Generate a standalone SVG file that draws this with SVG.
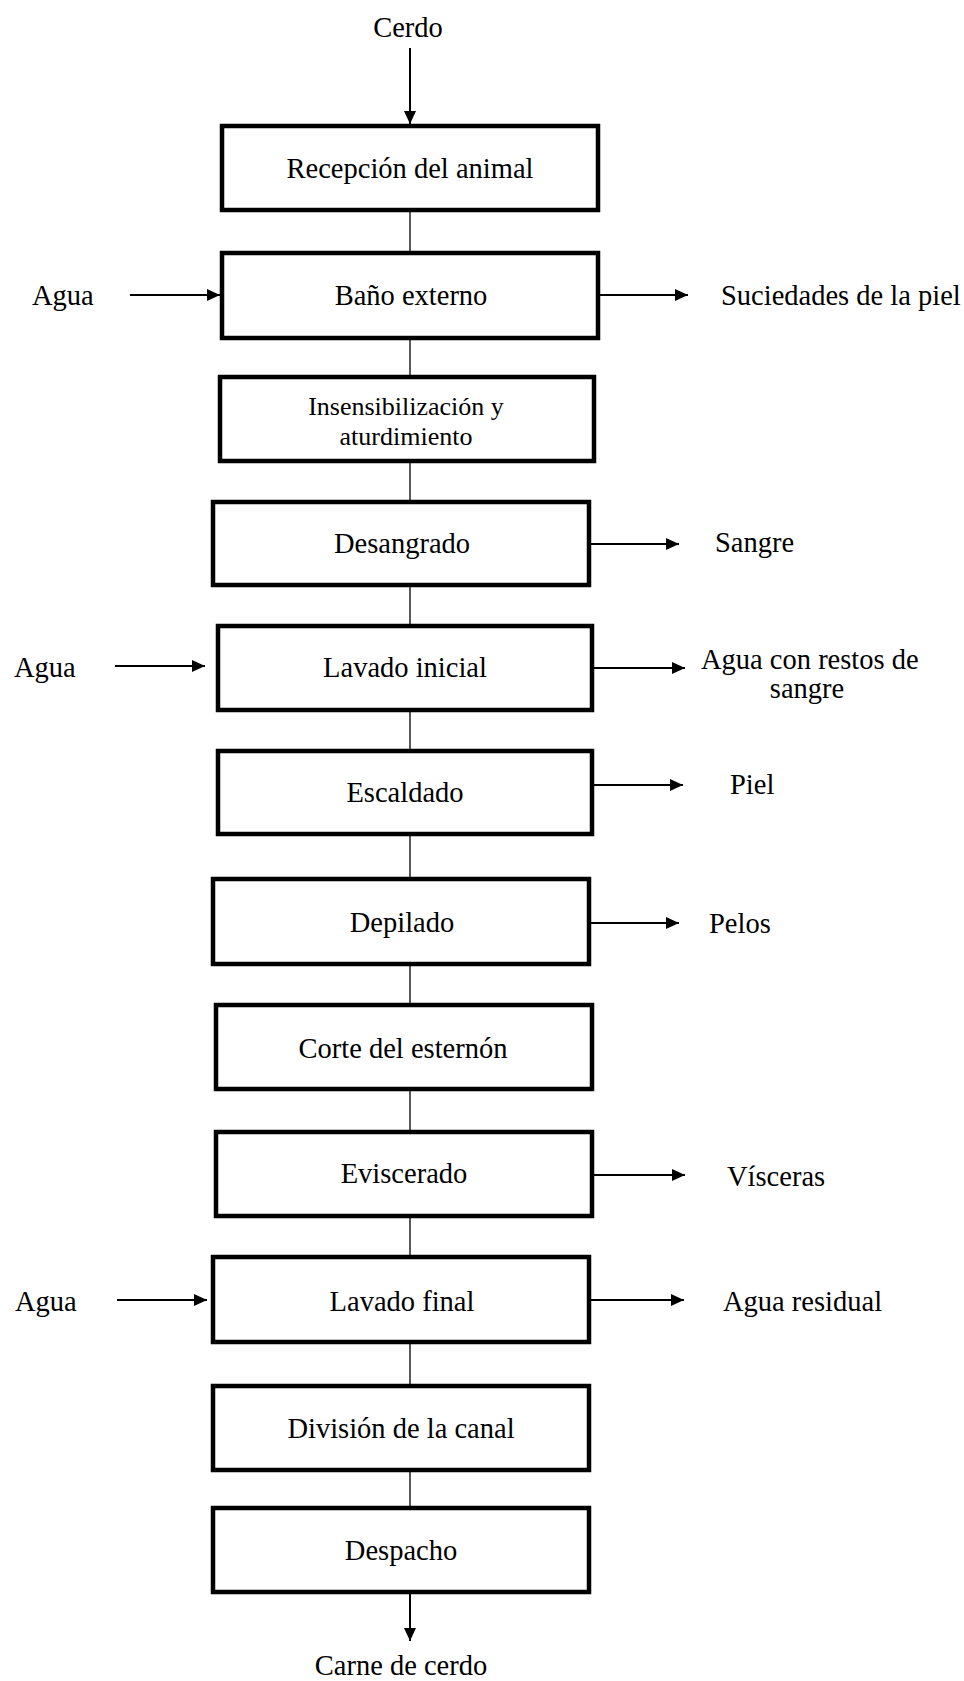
<svg xmlns="http://www.w3.org/2000/svg" width="964" height="1681" viewBox="0 0 964 1681">
<style>
.box{fill:#fff;stroke:#000;stroke-width:4.5}
.t{font-family:"Liberation Serif","Times New Roman",serif;font-size:28.5px;fill:#000}
.m{text-anchor:middle}
.c{stroke:#000;stroke-width:1.3;fill:none}
.a{stroke:#000;stroke-width:2;fill:none;marker-end:url(#ah)}
</style>
<defs>
<marker id="ah" markerUnits="userSpaceOnUse" markerWidth="14" markerHeight="12" refX="13" refY="6" orient="auto">
<path d="M0,0 L13,6 L0,12 Z" fill="#000"/>
</marker>
</defs>
<rect width="964" height="1681" fill="#fff"/>
<g id="connectors">
<line class="a" x1="410" y1="48" x2="410" y2="124"/>
<line class="c" x1="410" y1="210" x2="410" y2="253"/>
<line class="c" x1="410" y1="338" x2="410" y2="377"/>
<line class="c" x1="410" y1="461" x2="410" y2="502"/>
<line class="c" x1="410" y1="585" x2="410" y2="626"/>
<line class="c" x1="410" y1="710" x2="410" y2="751"/>
<line class="c" x1="410" y1="834" x2="410" y2="879"/>
<line class="c" x1="410" y1="964" x2="410" y2="1005"/>
<line class="c" x1="410" y1="1089" x2="410" y2="1132"/>
<line class="c" x1="410" y1="1216" x2="410" y2="1257"/>
<line class="c" x1="410" y1="1342" x2="410" y2="1386"/>
<line class="c" x1="410" y1="1470" x2="410" y2="1508"/>
<line class="a" x1="410" y1="1592" x2="410" y2="1641"/>
<line class="a" x1="130" y1="295" x2="220" y2="295"/>
<line class="a" x1="600" y1="295" x2="688" y2="295"/>
<line class="a" x1="591" y1="544" x2="679" y2="544"/>
<line class="a" x1="115" y1="666" x2="205" y2="666"/>
<line class="a" x1="594" y1="668" x2="685" y2="668"/>
<line class="a" x1="594" y1="785" x2="683" y2="785"/>
<line class="a" x1="591" y1="923" x2="679" y2="923"/>
<line class="a" x1="594" y1="1175" x2="685" y2="1175"/>
<line class="a" x1="117" y1="1300" x2="207" y2="1300"/>
<line class="a" x1="591" y1="1300" x2="684" y2="1300"/>
</g>
<g id="n1"><rect class="box" x="222" y="126" width="376" height="84"/><text class="t m" x="410" y="178">Recepción del animal</text></g>
<g id="n2"><rect class="box" x="222" y="253" width="376" height="85"/><text class="t m" x="411" y="305">Baño externo</text></g>
<g id="n3"><rect class="box" x="220" y="377" width="374" height="84"/><text class="t m" x="406" y="415" style="font-size:26px">Insensibilización y</text><text class="t m" x="406" y="445" style="font-size:26px">aturdimiento</text></g>
<g id="n4"><rect class="box" x="213" y="502" width="376" height="83"/><text class="t m" x="402" y="553">Desangrado</text></g>
<g id="n5"><rect class="box" x="218" y="626" width="374" height="84"/><text class="t m" x="405" y="677">Lavado inicial</text></g>
<g id="n6"><rect class="box" x="218" y="751" width="374" height="83"/><text class="t m" x="405" y="802">Escaldado</text></g>
<g id="n7"><rect class="box" x="213" y="879" width="376" height="85"/><text class="t m" x="402" y="932">Depilado</text></g>
<g id="n8"><rect class="box" x="216" y="1005" width="376" height="84"/><text class="t m" x="403" y="1058">Corte del esternón</text></g>
<g id="n9"><rect class="box" x="216" y="1132" width="376" height="84"/><text class="t m" x="404" y="1183">Eviscerado</text></g>
<g id="n10"><rect class="box" x="213" y="1257" width="376" height="85"/><text class="t m" x="402" y="1311">Lavado final</text></g>
<g id="n11"><rect class="box" x="213" y="1386" width="376" height="84"/><text class="t m" x="401" y="1438">División de la canal</text></g>
<g id="n12"><rect class="box" x="213" y="1508" width="376" height="84"/><text class="t m" x="401" y="1560">Despacho</text></g>
<g id="labels">
<text class="t m" x="408" y="37">Cerdo</text>
<text class="t m" x="401" y="1675">Carne de cerdo</text>
<text class="t" x="32" y="305">Agua</text>
<text class="t" x="721" y="305">Suciedades de la piel</text>
<text class="t" x="715" y="552">Sangre</text>
<text class="t" x="14" y="677">Agua</text>
<text class="t" x="701" y="669">Agua con restos de</text>
<text class="t m" x="807" y="698">sangre</text>
<text class="t" x="730" y="794">Piel</text>
<text class="t" x="709" y="933">Pelos</text>
<text class="t" x="727" y="1186">Vísceras</text>
<text class="t" x="15" y="1311">Agua</text>
<text class="t" x="723" y="1311">Agua residual</text>
</g>
</svg>
